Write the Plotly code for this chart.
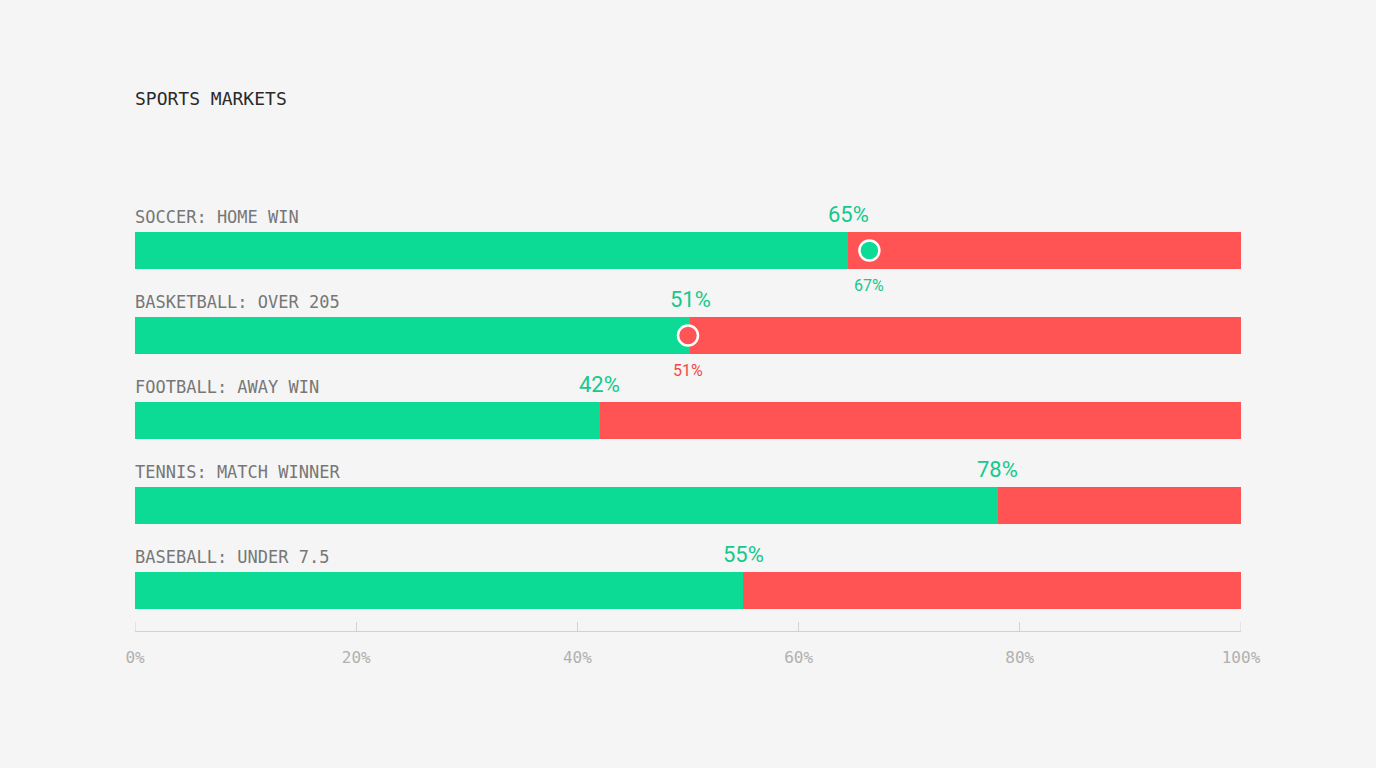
import plotly.graph_objects as go

# Data
categories = ["SOCCER: HOME WIN", "BASKETBALL: OVER 205", "FOOTBALL: AWAY WIN",
              "TENNIS: MATCH WINNER", "BASEBALL: UNDER 7.5"]
yes_values = [64.5, 50.2, 42, 78, 55]
yes_labels = ["65%", "51%", "42%", "78%", "55%"]
marker_rows = [0, 1]
marker_values = [66.4, 50.0]
marker_labels = ["67%", "51%"]
marker_kind = ["up", "down"]
x_ticks = [0, 20, 40, 60, 80, 100]
x_tick_labels = ["0%", "20%", "40%", "60%", "80%", "100%"]

GREEN = "#0cdb96"
RED = "#ff5453"
GREEN_TXT = "#14c98b"
RED_TXT = "#f04a48"
BG = "#f5f5f5"
AXIS = "#d2d2d2"
MONO = "DejaVu Sans Mono, monospace"
SANS = "Roboto, Inter, sans-serif"

rows = list(range(len(categories)))
no_values = [100 - v for v in yes_values]

fig = go.Figure()
fig.add_trace(go.Bar(
    y=rows, x=yes_values, base=[0] * len(rows), orientation="h",
    marker=dict(color=GREEN, line=dict(width=0)), width=0.435,
    hoverinfo="skip", showlegend=False))
fig.add_trace(go.Bar(
    y=rows, x=no_values, base=yes_values, orientation="h",
    marker=dict(color=RED, line=dict(width=0)), width=0.435,
    hoverinfo="skip", showlegend=False))

mcolors = [GREEN if k == "up" else RED for k in marker_kind]
tcolors = [GREEN_TXT if k == "up" else RED_TXT for k in marker_kind]
fig.add_trace(go.Scatter(
    x=marker_values, y=marker_rows, mode="markers",
    marker=dict(size=20, color=mcolors, line=dict(color="white", width=2.5)),
    hoverinfo="skip", showlegend=False))

annotations = []
for i, cat in enumerate(categories):
    annotations.append(dict(
        x=0, y=i - 0.40, xref="x", yref="y", text=cat, showarrow=False,
        xanchor="left", yanchor="middle", xshift=-2,
        font=dict(family=MONO, size=17, color="#777777")))
    annotations.append(dict(
        x=yes_values[i], y=i - 0.42, xref="x", yref="y", text=yes_labels[i],
        showarrow=False, xanchor="center", yanchor="middle",
        font=dict(family=SANS, size=22, color=GREEN_TXT)))
for r, v, lab, c in zip(marker_rows, marker_values, marker_labels, tcolors):
    annotations.append(dict(
        x=v, y=r + 0.41, xref="x", yref="y", text=lab, showarrow=False,
        xanchor="center", yanchor="middle",
        font=dict(family=SANS, size=16, color=c)))

# edge tick marks (plotly hides inside ticks at the plot edges)
shapes = []
for t in (x_ticks[0], x_ticks[-1]):
    shapes.append(dict(type="line", xref="x", yref="paper", x0=t, x1=t,
                       y0=0, y1=9 / 441, line=dict(color=AXIS, width=1)))

fig.update_layout(
    width=1376, height=768,
    paper_bgcolor=BG, plot_bgcolor=BG,
    margin=dict(l=135, r=135, t=190, b=137),
    barmode="overlay",
    bargap=0,
    title=dict(text="SPORTS MARKETS", x=135 / 1376, xanchor="left",
               y=1 - 99 / 768, yanchor="middle",
               font=dict(family=MONO, size=18, color="#2a2a2a")),
    xaxis=dict(range=[0, 100], tickvals=x_ticks, ticktext=x_tick_labels,
               showgrid=False, zeroline=False,
               showline=True, linecolor=AXIS, linewidth=1,
               ticks="inside", ticklen=9, tickcolor=AXIS, tickwidth=1,
               tickfont=dict(family=MONO, size=16, color="#b0b0b0"),
               ticklabelstandoff=12, fixedrange=True),
    yaxis=dict(range=[4.476, -0.712], showgrid=False, zeroline=False,
               showticklabels=False, showline=False, fixedrange=True),
    annotations=annotations,
    shapes=shapes,
)

fig.write_html("out.html")
